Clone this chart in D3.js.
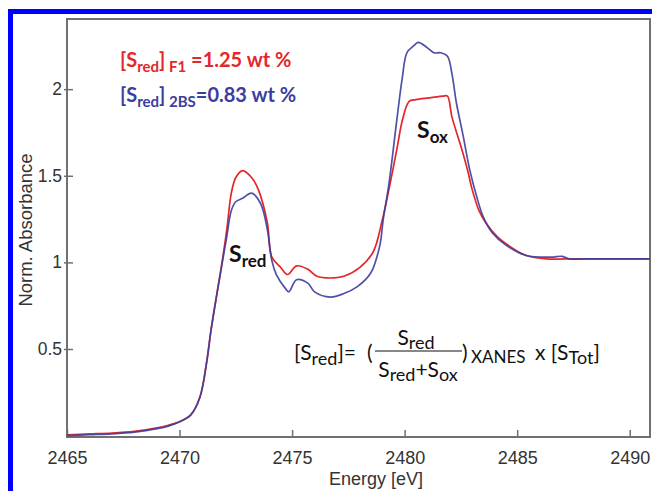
<!DOCTYPE html>
<html>
<head>
<meta charset="utf-8">
<script src="https://cdn.jsdelivr.net/npm/d3@7"></script>
<style>
  body { margin: 0; background: #fff; }
  svg { display: block; }
</style>
</head>
<body>
<svg id="chart" width="652" height="491"></svg>
<script>
// Sample F1 (red)
const redEnergy = [2465, 2466, 2467, 2468, 2469, 2469.5, 2470, 2470.5, 2470.9, 2471.2, 2471.4, 2471.7, 2471.9, 2472.1, 2472.3, 2472.5, 2472.8, 2473.2, 2473.5, 2473.9, 2474.1, 2474.5, 2474.8, 2475.2, 2475.7, 2476.1, 2476.7, 2477.3, 2478.0, 2478.6, 2479.0, 2479.3, 2479.65, 2479.9, 2480.2, 2480.5, 2481.1, 2481.7, 2481.9, 2482.1, 2482.5, 2482.8, 2483.0, 2483.3, 2483.6, 2484.1, 2484.7, 2485.4, 2486.3, 2487.2, 2489.0, 2490.9];
const redAbs = [0.005, 0.01, 0.015, 0.025, 0.045, 0.06, 0.08, 0.12, 0.22, 0.42, 0.61, 0.85, 1.01, 1.19, 1.40, 1.49, 1.53, 1.49, 1.42, 1.23, 1.03, 0.97, 0.93, 0.98, 0.96, 0.92, 0.91, 0.92, 0.97, 1.06, 1.24, 1.42, 1.65, 1.82, 1.93, 1.94, 1.95, 1.96, 1.96, 1.84, 1.67, 1.53, 1.42, 1.30, 1.23, 1.15, 1.09, 1.04, 1.02, 1.02, 1.02, 1.02];

// Sample 2BS (blue)
const blueEnergy = [2465, 2466, 2467, 2468, 2469, 2469.5, 2470, 2470.5, 2470.9, 2471.2, 2471.4, 2471.7, 2471.9, 2472.1, 2472.3, 2472.5, 2472.8, 2473.2, 2473.6, 2473.9, 2474.1, 2474.3, 2474.7, 2474.85, 2475.2, 2475.7, 2476.0, 2476.7, 2477.3, 2477.9, 2478.5, 2478.9, 2479.05, 2479.3, 2479.65, 2479.9, 2480.1, 2480.4, 2480.6, 2481.0, 2481.3, 2481.6, 2481.9, 2482.1, 2482.3, 2482.6, 2482.9, 2483.2, 2483.5, 2483.9, 2484.5, 2485.4, 2486.5, 2487.0, 2487.3, 2488.0, 2490.9];
const blueAbs = [0.0, 0.005, 0.01, 0.02, 0.04, 0.055, 0.08, 0.12, 0.22, 0.42, 0.61, 0.85, 1.0, 1.15, 1.30, 1.35, 1.37, 1.40, 1.34, 1.19, 1.01, 0.93, 0.85, 0.83, 0.90, 0.88, 0.83, 0.80, 0.82, 0.86, 0.94, 1.10, 1.25, 1.45, 1.82, 2.07, 2.21, 2.25, 2.27, 2.24, 2.21, 2.21, 2.19, 2.09, 1.92, 1.73, 1.53, 1.38, 1.26, 1.17, 1.10, 1.04, 1.03, 1.035, 1.02, 1.02, 1.02];

const xTicks = [2465, 2470, 2475, 2480, 2485, 2490];
const yTicks = [0.5, 1, 1.5, 2];

const svg = d3.select("#chart");
const frame = { left: 67, top: 19, right: 650, bottom: 437 };

const x = d3.scaleLinear().domain([2465, 2490.9]).range([frame.left, frame.right]);
const y = d3.scaleLinear().domain([-0.008, 2.405]).range([frame.bottom, frame.top]);

// blue page border
svg.append("rect").attr("x", 8).attr("y", 9).attr("width", 644).attr("height", 5).attr("fill", "#0000ff");
svg.append("rect").attr("x", 8).attr("y", 9).attr("width", 5).attr("height", 482).attr("fill", "#0000ff");

// plot frame
svg.append("rect")
  .attr("x", frame.left).attr("y", frame.top)
  .attr("width", frame.right - frame.left).attr("height", frame.bottom - frame.top)
  .attr("fill", "none").attr("stroke", "#707070").attr("stroke-width", 2);

const axisColor = "#707070";
const labelColor = "#333";
const axisFont = "'Liberation Sans', Arial, sans-serif";

// x axis
const xAxis = svg.append("g")
  .attr("transform", `translate(0,${frame.bottom})`)
  .call(d3.axisBottom(x).tickValues(xTicks).tickSize(-7).tickPadding(14).tickFormat(d3.format("d")));
xAxis.select(".domain").remove();
xAxis.selectAll("line").attr("stroke", axisColor).attr("stroke-width", 1.5);
xAxis.selectAll("text").attr("fill", labelColor).style("font", `18px ${axisFont}`);

// y axis
const yAxis = svg.append("g")
  .attr("transform", `translate(${frame.left},0)`)
  .call(d3.axisLeft(y).tickValues(yTicks).tickSize(0).tickPadding(5).tickFormat(d3.format("")));
yAxis.select(".domain").remove();
yAxis.selectAll(".tick").append("line")
  .attr("x1", -3).attr("x2", 6).attr("stroke", axisColor).attr("stroke-width", 1.5);
yAxis.selectAll("text").attr("fill", labelColor).style("font", `17.5px ${axisFont}`);

// axis titles
svg.append("text")
  .attr("x", 376).attr("y", 485)
  .attr("text-anchor", "middle")
  .attr("fill", labelColor)
  .style("font", `18px ${axisFont}`)
  .text("Energy [eV]");

svg.append("text")
  .attr("transform", "translate(32,230) rotate(-90)")
  .attr("text-anchor", "middle")
  .attr("fill", labelColor)
  .style("font", `18.5px ${axisFont}`)
  .text("Norm. Absorbance");

// spectra
const line = d3.line()
  .x(d => x(d[0]))
  .y(d => y(d[1]))
  .curve(d3.curveCatmullRom.alpha(0.5));

const redData = d3.zip(redEnergy, redAbs);
const blueData = d3.zip(blueEnergy, blueAbs);

svg.append("path").datum(redData)
  .attr("d", line).attr("fill", "none")
  .attr("stroke", "#e5262b").attr("stroke-width", 1.7);

svg.append("path").datum(blueData)
  .attr("d", line).attr("fill", "none")
  .attr("stroke", "#3c3e9c").attr("stroke-width", 1.7).attr("stroke-opacity", 0.9);

// annotations
const annFont = "Lato, 'Open Sans', sans-serif";

// parts: [text, isSub, fontSize]
function subText(sel, parts, shift = 5) {
  let sub = false;
  parts.forEach(([t, s, size]) => {
    const ts = sel.append("tspan").text(t);
    if (size) ts.style("font-size", size + "px");
    if (s && !sub) ts.attr("dy", shift);
    if (!s && sub) ts.attr("dy", -shift);
    sub = s;
  });
}

function label(px, py, color, size, weight, parts, anchor = "start", shift = 5) {
  const t = svg.append("text").attr("x", px).attr("y", py)
    .attr("text-anchor", anchor)
    .attr("fill", color).style("font-family", annFont)
    .style("font-weight", weight).style("font-size", size + "px");
  subText(t, parts, shift);
  return t;
}

label(120, 67, "#e5262b", 20, "bold", [["[S", false], ["red", true, 15], ["]", false], [" F1", true, 15], [" =1.25 wt %", false]]);
label(120, 102, "#3c3e9c", 20, "bold", [["[S", false], ["red", true, 15], ["]", false], [" 2BS", true, 15], ["=0.83 wt %", false]]);

label(229, 262, "#111", 23, "bold", [["S", false], ["red", true, 17]]);
label(417, 138, "#111", 23, "bold", [["S", false], ["ox", true, 17]]);

// formula
label(294, 360, "#111", 21, "normal", [["[S", false], ["red", true, 18], ["]=", false]]);
label(367, 360, "#111", 21, "normal", [["(", false]]);
label(416, 345, "#111", 21, "normal", [["S", false], ["red", true, 18]], "middle", 4);
svg.append("line").attr("x1", 375).attr("x2", 462).attr("y1", 351).attr("y2", 351)
  .attr("stroke", "#111").attr("stroke-width", 1.2);
label(418, 377, "#111", 21, "normal", [["S", false], ["red", true, 18], ["+S", false], ["ox", true, 18]], "middle", 4);
label(462, 360, "#111", 21, "normal", [[")", false]]);
label(471, 363, "#111", 17, "normal", [["XANES", false]]);
label(535, 360, "#111", 21, "normal", [["x [S", false], ["Tot", true, 18], ["]", false]], "start", 4);
</script>
</body>
</html>
